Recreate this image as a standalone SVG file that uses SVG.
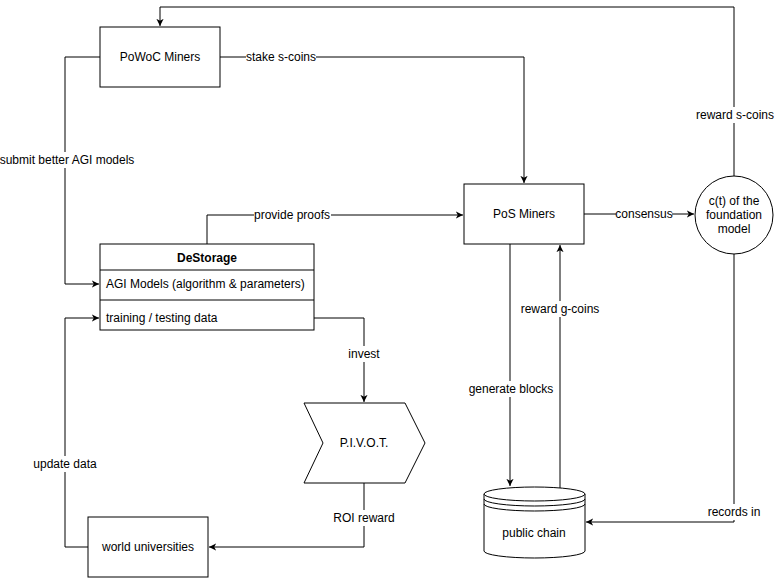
<svg xmlns="http://www.w3.org/2000/svg" width="777" height="578" viewBox="0 0 777 578">
<defs>
<style>
.n{fill:#fff;stroke:#000;stroke-width:1}
.c{fill:none;stroke:#000;stroke-width:1}
text{font-family:"Liberation Sans",Arial,Helvetica,sans-serif;font-size:12px;fill:#000}
.m{text-anchor:middle;dominant-baseline:central}
.l{fill:#fff}
</style>
<marker id="a" viewBox="0 0 10 10" refX="9" refY="5" markerWidth="8" markerHeight="8" markerUnits="userSpaceOnUse" orient="auto">
<path d="M0,0.5 L9,5 L0,9.5 L2.5,5 Z" fill="#000"/>
</marker>
</defs>
<rect width="777" height="578" fill="#fff"/>
<g id="connectors">
<path class="c" d="M734,176 V7 H160 V26" marker-end="url(#a)"/>
<rect class="l" x="696" y="107" width="78" height="16"/>
<text class="m" x="735" y="115">reward s-coins</text>
<path class="c" d="M220,57 H524 V183" marker-end="url(#a)"/>
<rect class="l" x="246" y="49" width="70" height="16"/>
<text class="m" x="281" y="57">stake s-coins</text>
<path class="c" d="M584,214 H694" marker-end="url(#a)"/>
<rect class="l" x="616" y="206" width="56" height="16"/>
<text class="m" x="644" y="214">consensus</text>
<path class="c" d="M207,244 V215 H463" marker-end="url(#a)"/>
<rect class="l" x="254" y="207" width="77" height="16"/>
<text class="m" x="292" y="215">provide proofs</text>
<path class="c" d="M100,57 H65 V284 H99" marker-end="url(#a)"/>
<rect class="l" x="0" y="152" width="135" height="16"/>
<text class="m" x="67" y="160">submit better AGI models</text>
<path class="c" d="M88,547 H65 V318 H99" marker-end="url(#a)"/>
<rect class="l" x="33" y="456" width="64" height="16"/>
<text class="m" x="65" y="464">update data</text>
<path class="c" d="M314,318 H364 V402" marker-end="url(#a)"/>
<rect class="l" x="346" y="346" width="36" height="16"/>
<text class="m" x="364" y="354">invest</text>
<path class="c" d="M364,483 V547 H209" marker-end="url(#a)"/>
<rect class="l" x="332" y="510" width="64" height="16"/>
<text class="m" x="364" y="518">ROI reward</text>
<path class="c" d="M510,244 V486" marker-end="url(#a)"/>
<rect class="l" x="467" y="381" width="86" height="16"/>
<text class="m" x="511" y="389">generate blocks</text>
<path class="c" d="M560,488 V245" marker-end="url(#a)"/>
<rect class="l" x="518" y="301" width="84" height="16"/>
<text class="m" x="560" y="309">reward g-coins</text>
<path class="c" d="M734,254 V522 H586" marker-end="url(#a)"/>
<rect class="l" x="706" y="504" width="56" height="16"/>
<text class="m" x="734" y="512">records in</text>
</g>
<g id="powoc">
<rect class="n" x="100" y="27" width="120" height="60"/>
<text class="m" x="160" y="57">PoWoC Miners</text>
</g>
<g id="pos">
<rect class="n" x="464" y="184" width="120" height="60"/>
<text class="m" x="524" y="214">PoS Miners</text>
</g>
<g id="ct">
<circle class="n" cx="734" cy="215" r="39"/>
<text class="m" x="734" y="201">c(t) of the</text>
<text class="m" x="734" y="215">foundation</text>
<text class="m" x="734" y="229">model</text>
</g>
<g id="destorage">
<rect class="n" x="100" y="244" width="214" height="86"/>
<path class="c" d="M100,270 H314 M100,300 H314"/>
<text class="m" x="207" y="258" font-weight="bold">DeStorage</text>
<text x="106" y="288">AGI Models (algorithm &amp; parameters)</text>
<text x="106" y="322">training / testing data</text>
</g>
<g id="pivot">
<path class="n" d="M304,403 H405 L425,443 L405,483 H304 L323,443 Z"/>
<text class="m" x="364" y="443">P.I.V.O.T.</text>
</g>
<g id="universities">
<rect class="n" x="88" y="517" width="120" height="60"/>
<text class="m" x="148" y="547">world universities</text>
</g>
<g id="publicchain">
<path class="n" d="M484,494 V551 A50.5,7 0 0 0 585,551 V494"/>
<ellipse class="n" cx="534.5" cy="494" rx="50.5" ry="7"/>
<path class="c" d="M484,499 A50.5,7 0 0 0 585,499 M484,504 A50.5,7 0 0 0 585,504"/>
<text class="m" x="534" y="533">public chain</text>
</g>
</svg>
